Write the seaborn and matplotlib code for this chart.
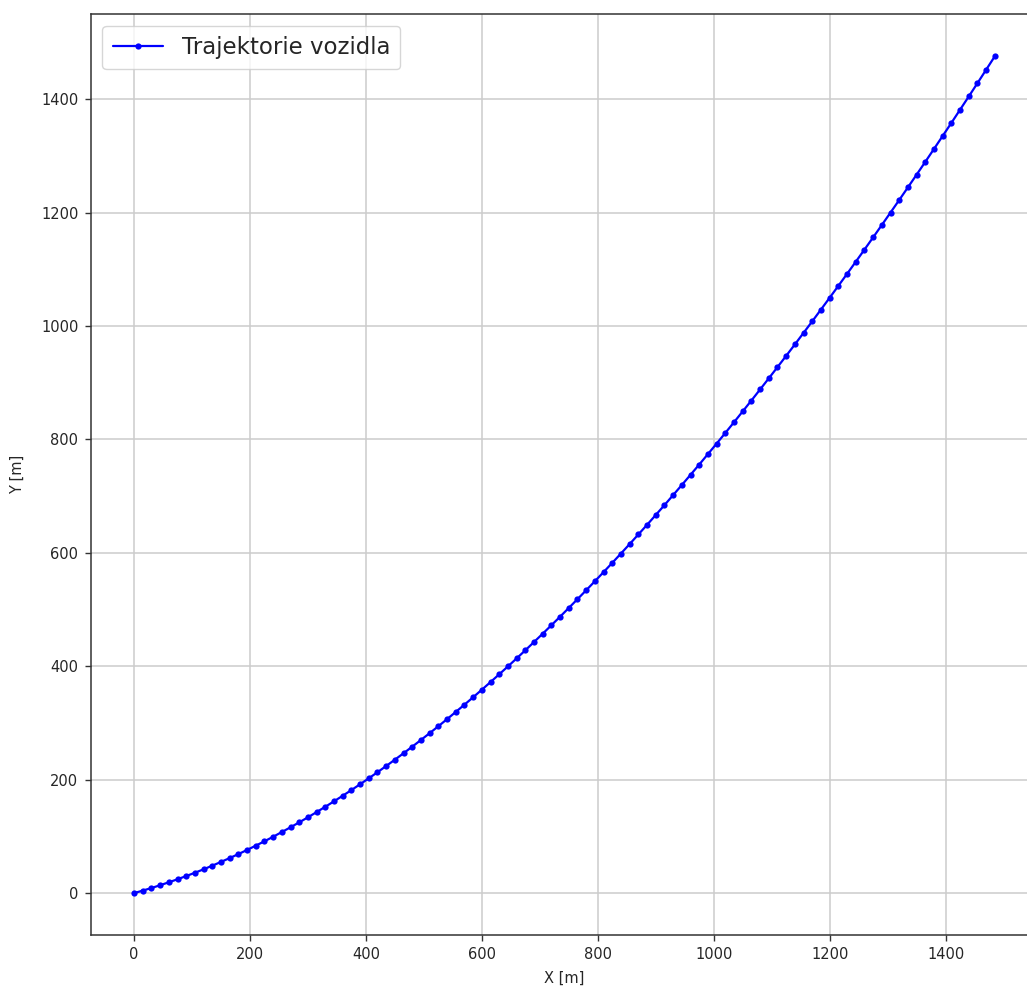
import matplotlib
matplotlib.use("Agg")
import matplotlib.pyplot as plt
import seaborn as sns
import pandas as pd

# Trajectory points
x_m = [0, 15, 30, 45, 60, 75, 90, 105, 120, 135,
       150, 165, 180, 195, 210, 225, 240, 255, 270, 285,
       300, 315, 330, 345, 360, 375, 390, 405, 420, 435,
       450, 465, 480, 495, 510, 525, 540, 555, 570, 585,
       600, 615, 630, 645, 660, 675, 690, 705, 720, 735,
       750, 765, 780, 795, 810, 825, 840, 855, 870, 885,
       900, 915, 930, 945, 960, 975, 990, 1005, 1020, 1035,
       1050, 1065, 1080, 1095, 1110, 1125, 1140, 1155, 1170, 1185,
       1200, 1215, 1230, 1245, 1260, 1275, 1290, 1305, 1320, 1335,
       1350, 1365, 1380, 1395, 1410, 1425, 1440, 1455, 1470, 1485]
y_m = [0.0, 4.4, 9.0, 13.9, 19.1, 24.4, 30.1, 35.9, 42.0, 48.4,
       55.0, 61.8, 68.8, 76.1, 83.7, 91.4, 99.4, 107.7, 116.1, 124.8,
       133.7, 142.9, 152.3, 161.9, 171.7, 181.7, 192.0, 202.5, 213.2, 224.2,
       235.3, 246.7, 258.3, 270.1, 282.1, 294.3, 306.8, 319.5, 332.3, 345.4,
       358.7, 372.2, 385.9, 399.8, 413.9, 428.2, 442.8, 457.5, 472.4, 487.5,
       502.9, 518.4, 534.1, 550.0, 566.1, 582.4, 598.9, 615.6, 632.5, 649.5,
       666.8, 684.2, 701.9, 719.7, 737.7, 755.8, 774.2, 792.7, 811.5, 830.4,
       849.5, 868.7, 888.2, 907.8, 927.6, 947.5, 967.6, 988.0, 1008.4, 1029.1,
       1049.9, 1070.9, 1092.0, 1113.3, 1134.8, 1156.4, 1178.2, 1200.2, 1222.3, 1244.6,
       1267.0, 1289.6, 1312.4, 1335.3, 1358.3, 1381.6, 1404.9, 1428.4, 1452.1, 1475.9]
series_label = "Trajektorie vozidla"

df = pd.DataFrame({"X": x_m, "Y": y_m})

sns.set_style("ticks")
plt.rcParams['font.family'] = ['DejaVu Sans']

fig = plt.figure(figsize=(10.27, 9.92), dpi=100)
ax = fig.add_axes([0.0886, 0.0575, 0.922, 0.928])

sns.lineplot(data=df, x="X", y="Y", sort=False, ax=ax, color="blue",
             linewidth=1.6, marker="o", markersize=4.5, markeredgewidth=0,
             label=series_label)

ax.set_xticks([0, 200, 400, 600, 800, 1000, 1200, 1400])
ax.set_yticks([0, 200, 400, 600, 800, 1000, 1200, 1400])
ax.set_xlim(-74.25, 1559.25)
ax.set_ylim(-73.8, 1549.7)
ax.grid(True, color="#cccccc", linewidth=1.1)
ax.set_axisbelow(True)
ax.tick_params(labelsize=10.5, length=4, width=1, color="#333333", pad=5)
for s in ax.spines.values():
    s.set_color("#333333")
    s.set_linewidth(1.1)
ax.set_xlabel("X [m]", fontsize=10.5, labelpad=6)
ax.set_ylabel("Y [m]", fontsize=10.5, labelpad=12)
ax.legend(loc="upper left", fontsize=16.5, frameon=True, handlelength=2.2,
          borderpad=0.45)

fig.savefig("out.png", dpi=100)
